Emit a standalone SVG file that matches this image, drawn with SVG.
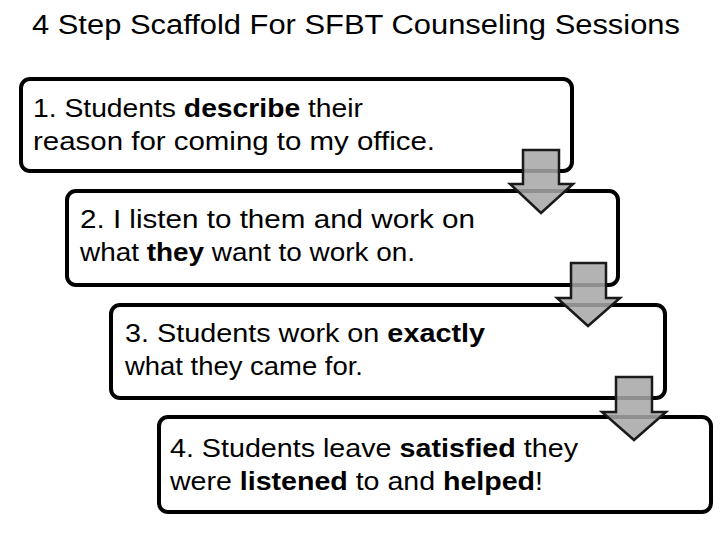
<svg xmlns="http://www.w3.org/2000/svg" width="720" height="540" viewBox="0 0 720 540">
<style>
text{font-family:"Liberation Sans",Arial,sans-serif;fill:#000}
.t{font-size:27px}
.b{font-size:26px}
.bold{font-weight:bold}
.box{fill:#fff;stroke:#000;stroke-width:4}
.arr{fill:#a7a7a7;fill-opacity:0.86;stroke:#1a1a1a;stroke-width:2.5;stroke-linejoin:miter}
</style>
<rect width="720" height="540" fill="#fff"/>
<text class="t" x="32" y="34" textLength="648" lengthAdjust="spacingAndGlyphs">4 Step Scaffold For SFBT Counseling Sessions</text>
<g id="step1">
<rect class="box" x="21" y="79" width="551" height="92" rx="9"/>
<text class="b" x="33" y="117" textLength="330" lengthAdjust="spacingAndGlyphs">1. Students <tspan class="bold">describe</tspan> their</text>
<text class="b" x="33" y="150" textLength="402" lengthAdjust="spacingAndGlyphs">reason for coming to my office.</text>
</g>
<g id="step2">
<rect class="box" x="67" y="191" width="551" height="94" rx="9"/>
<text class="b" x="80" y="228" textLength="395" lengthAdjust="spacingAndGlyphs">2. I listen to them and work on</text>
<text class="b" x="80" y="261" textLength="335" lengthAdjust="spacingAndGlyphs">what <tspan class="bold">they</tspan> want to work on.</text>
</g>
<g id="step3">
<rect class="box" x="111" y="305" width="554" height="93" rx="9"/>
<text class="b" x="125" y="342" textLength="360" lengthAdjust="spacingAndGlyphs">3. Students work on <tspan class="bold">exactly</tspan></text>
<text class="b" x="125" y="375" textLength="238" lengthAdjust="spacingAndGlyphs">what they came for.</text>
</g>
<g id="step4">
<rect class="box" x="159" y="417" width="552" height="95" rx="9"/>
<text class="b" x="170" y="457" textLength="408" lengthAdjust="spacingAndGlyphs">4. Students leave <tspan class="bold">satisfied</tspan> they</text>
<text class="b" x="170" y="490" textLength="373" lengthAdjust="spacingAndGlyphs">were <tspan class="bold">listened</tspan> to and <tspan class="bold">helped</tspan>!</text>
</g>
<g id="connectors">
<polygon class="arr" points="523,150 559,150 559,184 573,184 541,213 510,184 523,184"/>
<polygon class="arr" points="571,263 606,263 606,298 620,298 588,326 557,298 571,298"/>
<polygon class="arr" points="616,377 652,377 652,412 666,412 634,440 602,412 616,412"/>
</g>
</svg>
